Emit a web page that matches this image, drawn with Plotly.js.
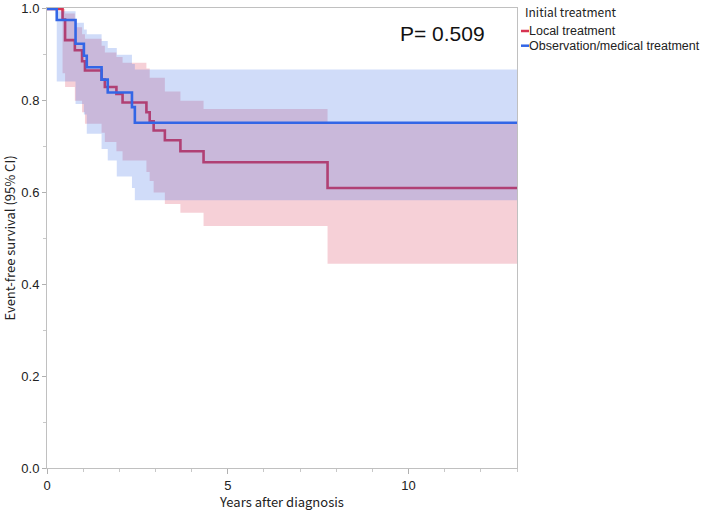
<!DOCTYPE html>
<html>
<head>
<meta charset="utf-8">
<script src="https://cdn.plot.ly/plotly-3.0.1.min.js"></script>
<style>html,body{margin:0;padding:0;background:#fff;}#chart{width:709px;height:511px;}</style>
</head>
<body>
<div id="chart"></div>
<script>
// ---- Data ----
const groupNames = ["Local treatment", "Observation/medical treatment"];
const legendTitle = "Initial treatment";
const pValueText = "P= 0.509";
const maxFollowUp = 13;

// Local treatment: Kaplan-Meier step times, survival and 95% CI
const localTime  = [0, 0.43, 0.50, 0.77, 0.97, 1.05, 1.51, 1.60, 1.92, 2.09, 2.75, 2.84, 2.95, 3.26, 3.69, 4.33, 7.76];
const localSurv  = [1, 0.977, 0.932, 0.910, 0.886, 0.866, 0.846, 0.830, 0.815, 0.796, 0.775, 0.755, 0.735, 0.714, 0.690, 0.666, 0.610];
const localLower = [1, 0.860, 0.830, 0.800, 0.775, 0.750, 0.730, 0.710, 0.690, 0.670, 0.645, 0.625, 0.600, 0.575, 0.556, 0.527, 0.445];
const localUpper = [1, 1.000, 0.990, 0.960, 0.945, 0.935, 0.920, 0.905, 0.895, 0.883, 0.870, 0.850, 0.850, 0.820, 0.800, 0.782, 0.750];

// Observation/medical treatment
const obsTime  = [0, 0.27, 0.79, 1.02, 1.10, 1.51, 1.68, 1.93, 2.35, 2.43];
const obsSurv  = [1, 0.976, 0.924, 0.898, 0.873, 0.846, 0.818, 0.818, 0.786, 0.752];
const obsLower = [1, 0.842, 0.793, 0.770, 0.728, 0.695, 0.670, 0.635, 0.610, 0.583];
const obsUpper = [1, 0.995, 0.970, 0.955, 0.945, 0.930, 0.915, 0.900, 0.880, 0.868];

// ---- Styling ----
const redLine = "rgb(214,52,82)";
const blueLine = "rgb(51,102,230)";
const redFill = "rgba(214,52,82,0.23)";
const blueFill = "rgba(51,102,230,0.23)";
const font = "'Noto Sans CJK JP', 'Noto Sans', sans-serif";
const tightFont = "'Liberation Sans', Arial, sans-serif";

function ext(t, v) { return { x: t.concat([maxFollowUp]), y: v.concat([v[v.length - 1]]) }; }

function bandTraces(t, lo, hi, fill) {
  const a = ext(t, lo), b = ext(t, hi);
  return [
    { x: a.x, y: a.y, mode: "lines", line: { width: 0, shape: "hv", color: fill }, showlegend: false, hoverinfo: "skip" },
    { x: b.x, y: b.y, mode: "lines", line: { width: 0, shape: "hv", color: fill }, fill: "tonexty", fillcolor: fill, showlegend: false, hoverinfo: "skip" }
  ];
}
function lineTrace(t, s, color, name) {
  const a = ext(t, s);
  return { x: a.x, y: a.y, mode: "lines", name: name, line: { width: 2.6, shape: "hv", color: color }, showlegend: false };
}

const data = []
  .concat(bandTraces(localTime, localLower, localUpper, redFill))
  .concat([lineTrace(localTime, localSurv, redLine, groupNames[0])])
  .concat(bandTraces(obsTime, obsLower, obsUpper, blueFill))
  .concat([lineTrace(obsTime, obsSurv, blueLine, groupNames[1])]);

const L = 47, R = 517, T = 8, B = 468;
const px = v => (v - L) / (R - L);
const py = v => (B - v) / (B - T);

const entryFont = { family: tightFont, size: 12.5, color: "#222" };

const layout = {
  width: 709, height: 511,
  margin: { l: L, r: 709 - R, t: T, b: 511 - B, pad: 0 },
  paper_bgcolor: "#fff", plot_bgcolor: "#fff",
  font: { family: font, size: 12, color: "#222" },
  showlegend: false,
  xaxis: {
    range: [0, maxFollowUp], tickvals: [0, 5, 10], ticktext: ["0", "5", "10"],
    ticks: "outside", ticklen: 5, tickcolor: "#b0b0b0",
    minor: { ticks: "outside", dtick: 1, ticklen: 3, tickcolor: "#c8c8c8" },
    showgrid: false, zeroline: false, showline: true, linecolor: "#c0c0c0", linewidth: 1, mirror: true,
    tickfont: { family: tightFont, size: 13, color: "#222" },
    title: { text: "Years after diagnosis", font: { family: font, size: 13, color: "#222" }, standoff: 2 }
  },
  yaxis: {
    range: [0, 1.002], tickvals: [0, 0.2, 0.4, 0.6, 0.8, 1.0], tickformat: ".1f",
    ticks: "outside", ticklen: 4, tickcolor: "#b0b0b0",
    minor: { ticks: "outside", dtick: 0.1, ticklen: 3, tickcolor: "#c8c8c8" },
    showgrid: false, zeroline: false, showline: true, linecolor: "#c0c0c0", linewidth: 1, mirror: true,
    tickfont: { family: tightFont, size: 13, color: "#222" },
    title: { text: "Event-free survival (95% CI)", font: { family: font, size: 13, color: "#222" }, standoff: 6 }
  },
  annotations: [
    { text: pValueText, xref: "paper", yref: "paper", x: px(442), y: py(33), xanchor: "center", yanchor: "middle", showarrow: false, font: { family: tightFont, size: 21, color: "#111" } },
    { text: legendTitle, xref: "paper", yref: "paper", x: px(523), y: py(12), xanchor: "left", yanchor: "middle", showarrow: false, font: { family: font, size: 12, color: "#222" } },
    { text: groupNames[0], xref: "paper", yref: "paper", x: px(528), y: py(31), xanchor: "left", yanchor: "middle", borderpad: 0, showarrow: false, font: entryFont },
    { text: groupNames[1], xref: "paper", yref: "paper", x: px(528), y: py(45.7), xanchor: "left", yanchor: "middle", borderpad: 0, showarrow: false, font: entryFont }
  ],
  shapes: [
    { type: "line", xref: "paper", yref: "paper", x0: px(521), x1: px(529), y0: py(31), y1: py(31), line: { color: redLine, width: 2.5 } },
    { type: "line", xref: "paper", yref: "paper", x0: px(521), x1: px(529), y0: py(45.7), y1: py(45.7), line: { color: blueLine, width: 2.5 } }
  ]
};

Plotly.newPlot("chart", data, layout, { displayModeBar: false, staticPlot: true });
</script>
</body>
</html>
